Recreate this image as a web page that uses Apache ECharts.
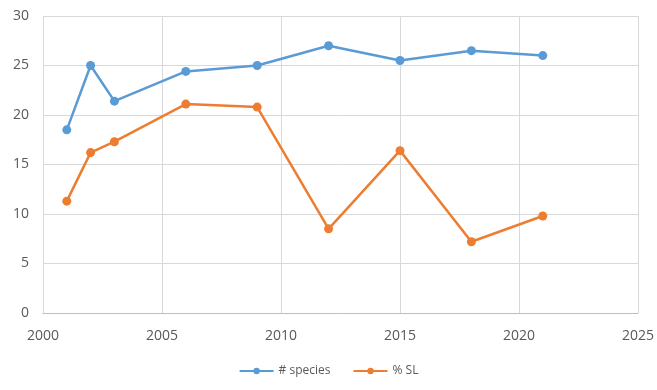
<!DOCTYPE html>
<html>
<head>
<meta charset="utf-8">
<script src="https://cdn.jsdelivr.net/npm/echarts@6/dist/echarts.min.js"></script>
<style>
  html, body { margin: 0; padding: 0; background: #fff; }
  #chart { width: 657px; height: 390px; }
</style>
</head>
<body>
<div id="chart"></div>
<script>
const years = [2001, 2002, 2003, 2006, 2009, 2012, 2015, 2018, 2021];
const species = [18.5, 25, 21.4, 24.4, 25, 27, 25.5, 26.5, 26];
const pctSL = [11.3, 16.2, 17.3, 21.1, 20.8, 8.5, 16.4, 7.2, 9.8];

const chart = echarts.init(document.getElementById('chart'));

const pairs = (vals) => years.map((y, i) => [y, vals[i]]);

const lineSeries = (name, vals, color) => ({
  name: name,
  type: 'line',
  data: pairs(vals),
  symbol: 'circle',
  symbolSize: 9,
  lineStyle: { width: 2.5, color: color },
  itemStyle: { color: color },
});

chart.setOption({
  animation: false,
  textStyle: { fontFamily: 'Open Sans', color: '#595959' },
  grid: { left: 43, right: 18, top: 16, bottom: 77 },
  legend: {
    bottom: 8,
    left: 'center',
    itemWidth: 34,
    itemHeight: 8,
    itemGap: 22,
    textStyle: { fontSize: 12, color: '#595959' },
    data: ['# species', '% SL'],
  },
  xAxis: {
    type: 'value',
    min: 2000,
    max: 2025,
    interval: 5,
    axisLine: { show: true, lineStyle: { color: '#bfbfbf' } },
    axisTick: { show: false },
    axisLabel: { fontSize: 14, color: '#595959', margin: 16, formatter: (v) => String(v) },
    splitLine: { show: true, lineStyle: { color: '#d9d9d9' } },
  },
  yAxis: {
    type: 'value',
    min: 0,
    max: 30,
    interval: 5,
    axisLine: { show: false },
    axisTick: { show: false },
    axisLabel: { fontSize: 14, color: '#595959', margin: 14 },
    splitLine: { lineStyle: { color: '#d9d9d9' } },
  },
  series: [
    lineSeries('# species', species, '#5b9bd5'),
    lineSeries('% SL', pctSL, '#ed7d31'),
  ],
});
</script>
</body>
</html>
